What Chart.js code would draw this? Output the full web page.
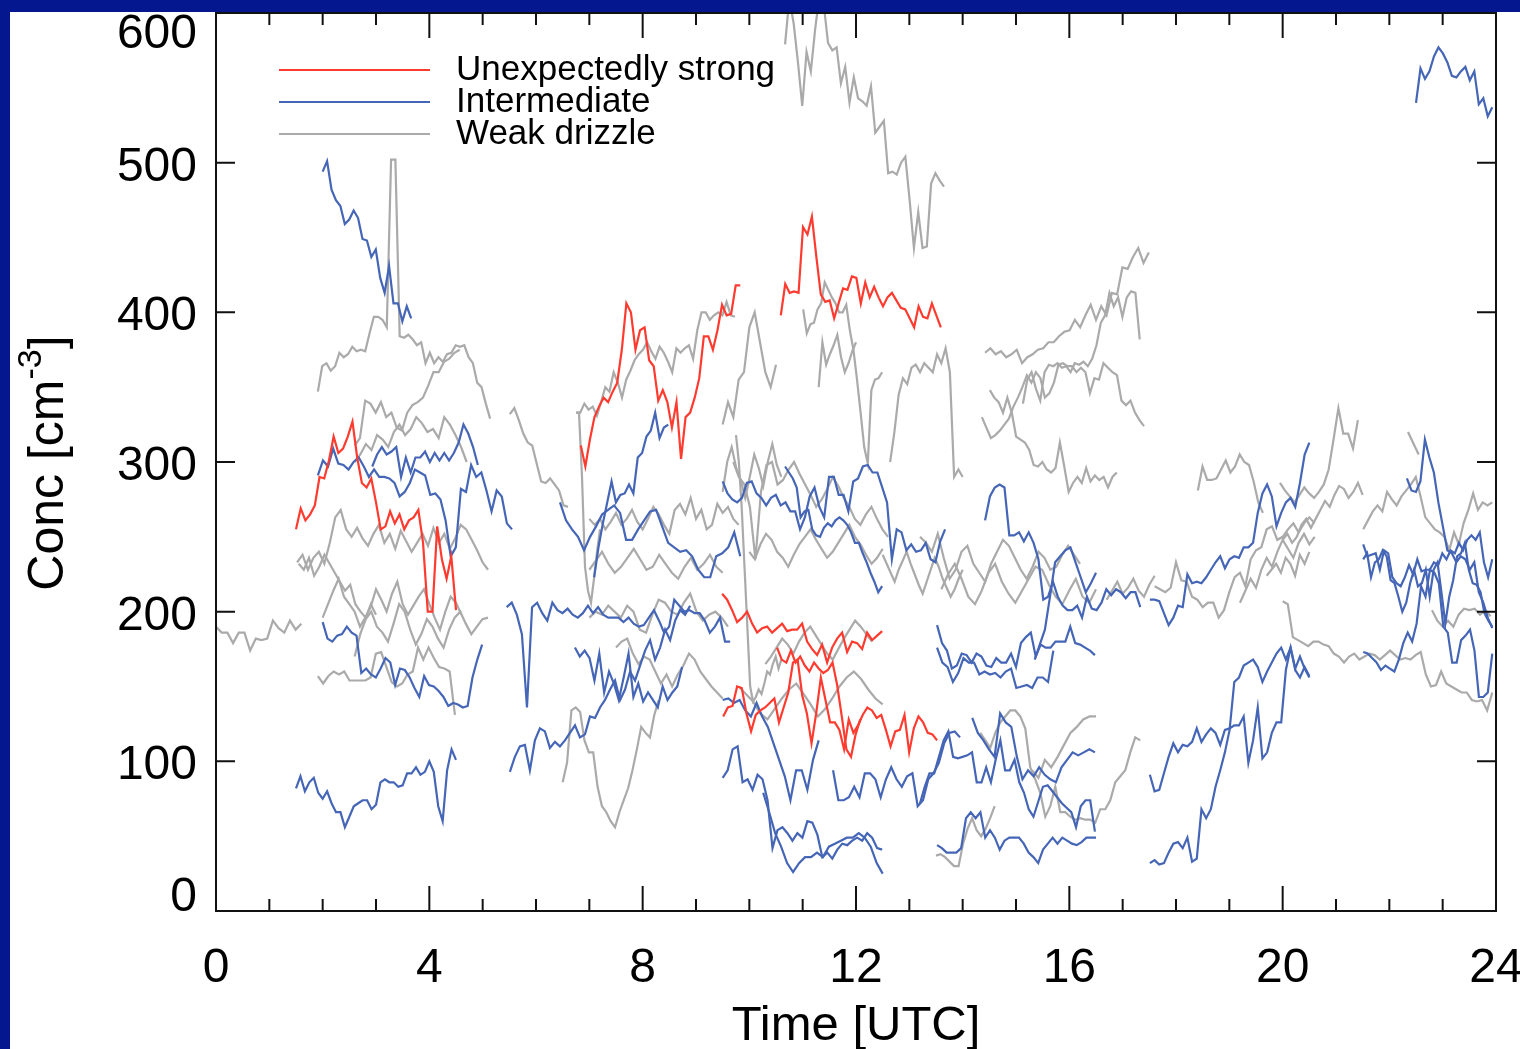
<!DOCTYPE html>
<html>
<head>
<meta charset="utf-8">
<title>Concentración de gotas</title>
<script src="https://cdn.jsdelivr.net/npm/chart.js@4.4.1/dist/chart.umd.min.js"></script>
<style>
  html, body { margin: 0; padding: 0; background: #fff; }
  canvas { display: block; }
</style>
</head>
<body>
<canvas id="grafico" width="1520" height="1049"></canvas>
<script>
// Tramos "Unexpectedly strong" (cm^-3, muestras regulares entre hora inicial y final)
const fuerte1 = [255,269,261,265,271,290,289,301,317,306,309,317,327,303,286,283,289,273,255,257,267,259,265,255,261,263,268,246,200,200,257,235,222,237,201];
const fuerte2 = [311,297,315,330,337,343,340,347,353,375,406,400,375,388,390,368,364,341,348,340,323,340,302,330,333,343,356,384,384,375,388,405,398,399,418,418];
const fuerte3 = [398,419,413,414,413,457,452,464,437,412,407,408,396,406,416,415,424,423,406,420,410,417,410,404,410,413,408,403,402,396,390,404,397,396,406,398,390];
const fuerte4 = [212,208,201,193,196,200,192,186,189,190,186,189,192,187,188,188,192,180,175,171,178,166,176,182,186,173,180,179,175,186,181,184,187];
const fuerte5 = [130,136,137,150,149,132,120,131,134,136,139,142,126,136,146,166,168,144,132,112,132,156,141,126,126,121,108,128,119,124,131,136,134,129,131,121,110,120,121,131,106,122,130,126,119,118,114];
const fuerte6 = [176,168,166,174,166,170,164,160,166,162,159,161,166,151,130,108,103,118,128];

// Tramos "Intermediate"
const intermedio01 = [494,501,482,475,471,459,462,468,463,449,448,437,442,423,413,431,406,406,394,404,396];
const intermedio02 = [540,563,556,561,571,577,573,567,558,557,561,564,555,561,539,543,531,537];
const intermedio03 = [82,90,80,86,89,79,75,80,72,66,66,56,63,70,72,74,74,68,71,86,88,86,86,83,84,92,92,96,91,93,100,93,70,60,94,108,101];
const intermedio04 = [193,182,180,184,185,190,186,184,159,162,158,156,162,169,166,151,162,161,156,149,143,157,151,150,147,143,137,139,138,136,137,156,168,178];
const intermedio05 = [291,301,297,309,299,298,295,300,303,297,290,295,290,290,289,286,277,280,286,295,293,291,278,279,275,261,237,243,282,280,298,290,293,281,267,281,277,259,255];
const intermedio06 = [203,206,198,185,136,203,206,199,194,206,201,199,202,198,196,199,204,199,203,198,196,196,196,193,196,192,190,191,196,201,194,186,190,208,204,200,201,199,199,194,186,190,196,180,180];
const intermedio07 = [297,305,310,305,307,310,290,303,293,303,303,307,300,306,301,306,301,306,313,325,319,310,298];
const intermedio08 = [223,243,259,273,287,273,278,279,285,279,303,306,317,321,333,316,323,325];
const intermedio09 = [273,261,255,250,241,250,257,265,268,271,266,248,248,255,261,267,268,257,246,243,240,241,237,228,223,223,237,239,243,253,237];
const intermedio10 = [287,279,275,273,276,286,287,279,276,271,276,278,271,273,267,267,255,263,277,283,270,263,290,290,278,278,267,287,289,297,298,293,293,283,273,235,255,253,241,245,240,241,246,235,233,247,255];
const intermedio11 = [297,293,289,283,263,267,268,255,251,250,256,259,257,261,263,261,258,253,246,246,239,233,226,220,213,217];
const intermedio12 = [93,103,110,111,94,114,122,120,109,113,110,114,119,124,116,118,130,129,136,141,148,154,141,148,160,154,164,174,181,168,176,188,181,194,201,198,204];
const intermedio13 = [176,170,174,169,154,172,146,160,152,141,156,172,143,152,140,146,141,136,150,141,146,150,163];
const intermedio14 = [89,94,108,110,86,88,81,91,88,74,42,54,56,52,47,52,49,60,59,51,36,39,35,41,45,44,47,49,47,52,49,42,41];
const intermedio15 = [79,66,52,43,32,26,32,36,36,39,36,43,45,47,49,49,52,49,43,32,25];
const intermedio16 = [141,142,139,141,134,130,139,130,123,112,101,90,74,94,94,81,101,114];
const intermedio17 = [94,74,74,76,83,76,92,92,88,76,88,96,88,83,90,92,70,74,88,92,99,112,119,120,116];
const intermedio18 = [191,179,174,162,164,172,171,166,172,170,164,163,169,166,166,172,163,179,183,186,170,178,176,176,180,180,180,190,179,178,176,174,171];
const intermedio19 = [176,166,163,153,159,169,166,166,158,160,158,159,156,160,162,149,150,151,149,156,156,153,174];
const intermedio20 = [261,277,283,285,283,251,251,253,247,253,246,235,208,210,220,210,204,201,201,204,196,210,202,201,206,215,211,215,213,209,213,213,203];
const intermedio21 = [168,178,188,210,233,237,241,243,233,223,213,219,226];
const intermedio22 = [208,208,207,199,191,196,204,203,225,219,220,219,223,228,233,237,229,235,237,236,243,243,246,266,279,285,277,257,266,273,276,270,286,305,313];
const intermedio23 = [91,80,81,92,103,112,106,111,110,113,122,113,118,122,119,111,121,122,124,124,130,99,114,136,102,106,119,126,126,161,176,162,170,162,156];
const intermedio24 = [32,34,31,32,39,45,46,42,49,33,35,68,62,68,83,94,106,121,153,156,164,166,168,163,153,160,166,172,176,168,176,161,156,163,157];
const intermedio25 = [245,237,238,239,228,241,239,223,219,217,223,231,225,235,227,228,228,233,231,239,235,241,239,246,241,248,251,248,253,233,223,235];
const intermedio26 = [235,239,223,233,235,241,237,221,219,210,200,206,219,228,217,219,228,210,228,233,213,192,210,221,237,239,246,228,219,218,213,199,194,190];
const intermedio27 = [289,281,280,287,315,303,293,273,257,241,239,233,237,235,228,233,213,206,196,189];
const intermedio28 = [173,172,169,166,161,164,162,160,168,179,186,180,192,217,210,228,226,219,190,186,166,166,181,184,188,174,143,143,146,172];
const intermedio29 = [44,42,39,39,39,42,62,66,62,66,49,54,49,41,47,49,49,49,45,39,36,32,41,45,49,45,49,47,45,44,46,49,49,49];
const intermedio30 = [72,83,92,92,103,114,120,103,102,103,104,106,86,86,96,86,101,114,94,94,101,86,79,68,63,73,83,84,80,76,72,69,66,56,70,74,74,53];
const intermedio31 = [129,119,114,108,103,132,126,123,103,88,94,90,96,91,88,86,96,101,106,104,106,108,106];

// Tramos "Weak drizzle"
const llovizna01 = [190,186,186,179,186,186,174,182,181,182,194,189,186,194,188,192];
const llovizna02 = [347,364,366,361,364,373,370,372,377,374,375,374,386,397,397,395,390,502,502,384,383,385,382,378,380,366,373,366,370,367,372,373,378,377,378,370,366,353,350,339,329];
const llovizna03 = [311,316,341,339,333,340,330,333,323,321,333,338,340,343,351,360,360,367,369,373,375];
const llovizna04 = [300,305,312,308,318,315,310,320,325,318,322,330,326,320,322,316,330,325,318,310,300];
const llovizna05 = [233,238,228,236,240,232,246,263,268,255,250,256,249,244,252,258,246,252,242,254,247,240,246,252,244,256,246,252,242,249,258,255,248,241,233,228];
const llovizna06 = [196,205,214,222,210,205,200,190,196,203,215,208,200,212,220,205,198,204,210,215,205,196,188,200,210,206,198];
const llovizna07 = [170,185,195,200,190,186,180,192,205,200,188,178,185,195,190,182,176,188,196,200,192,185,190,195,196];
const llovizna08 = [232,228,236,224,230,238,232,226,220,214,218,205,200,196,205,198];
const llovizna09 = [157,152,157,160,158,160,154,154,154,154,156,172,173,163,153,150,152,158,160,176,168,176,169,163,162,160,131];
const llovizna10 = [332,336,328,319,313,311,299,287,286,289,285,281,271,270];
const llovizna11 = [333,333,290,230,214,206,222,240,255];
const llovizna12 = [333,333,339,335,337,331,340,350,347,360,353,343,355,361,368,372,375,380,374,369,377,373,367,360,376,373,376,378,369,388,400,400,395,398,400,398,407,398,397];
const llovizna13 = [86,99,134,136,133,114,106,106,83,70,66,60,56,66,74,82,94,108,123,119,116,131,141];
const llovizna14 = [262,258,262,255,260,266,258,262,268,260,255,262,270,265,258,252,268,272,265,276,262,268,255,258,272,266,270,262,258];
const llovizna15 = [228,234,240,232,226,230,236,242,235,228,230,238,232,226,222,230,236,228,232,238,230,226];
const llovizna16 = [176,180,182,172,165,170,168,160,152,158,150,158,164,172,168,160,155,150,146,142];
const llovizna17 = [318,300,270,230,190,150,140,143,148,145,152,160,158,165,170,162,168];
const llovizna18 = [325,340,330,355,360,390,400,380,360,350,365];
const llovizna19 = [300,290,285,270,235,280,298,300,285,288,295,300,292,285,278,270,275,282,290,284,276,270,262,258,265,270,262,255,250];
const llovizna20 = [240,235,245,252,248,240,236,230,238,245,250,255,248,242,236,240,246,252,258,250,245,238,232,236,242];
const llovizna21 = [165,170,176,182,178,172,180,186,190,184,178,172,168,175,182,188,194,190,185,180];
const llovizna22 = [150,145,140,132,128,135,142,148,152,145,138,130,135,142,150,156,160,155,148,142,138];
const llovizna23 = [238,232,226,220,228,234,240,232,225,218,212,220,228,236,230,222,216,210,215,222,228];
const llovizna24 = [300,320,345,356,352,363,365,360,366,363,360,372,366,376,360,290,295,290];
const llovizna25 = [373,376,372,374,370,372,375,366,370,372,375,376,380,380,384,387,388,395,390,398,405,395,404,398,413,412,430,429,437,443,433,440];
const llovizna26 = [339,355,360,349,341,360,365,364,366,363,364,360,366,365,367,364,369,378,393,398,413,404,410,397,410,414,413,382];
const llovizna27 = [330,323,316,318,321,325,329,337,343,350,358,353,360,356,343,346,353,365,366,364,364,360,363,360,346,356,355,366,363,360,358,341,338,341,333,328,324];
const llovizna28 = [348,343,340,333,343,333,317,315,313,308,298,297,300,295,293,296,313,297,280,286,290,286,296,287,291,288,290,283,290,293];
const llovizna29 = [250,246,240,252,236,222,228,240,244,232,226,220,232,240,248,244,236,228,222,230,240,236,228,230,238,244,238,232];
const llovizna30 = [215,225,232,222,210,205,214,226,232,220,212,206,214,222,230,228,218,210,205,214,222,210,206,215];
const llovizna31 = [119,114,109,119,126,130,134,134,130,122,96,88,79,63,70,83,66,66,63,61,62,61,61,59,68,68,74,86,90,94,106,116,114];
const llovizna32 = [94,89,101,96,103,111,119,123,128,130,130];
const llovizna33 = [37,38,36,33,30,30,45,55,62,54,50,55,62,70];
const llovizna34 = [281,297,288,288,289,295,301,293,297,305,300,298,287,273,266];
const llovizna35 = [217,215,213,216,233,221,220,210,208,203,206,206,196,201,213,223,226,217,235,241,243,255,257,248,250,255,259,253,259,263,259];
const llovizna36 = [206,214,222,216,228,236,230,240,248,242,236,246,252,245,250];
const llovizna37 = [286,281,277,273,278,283,279,276,280,285,295,315,336,319,319,309,328];
const llovizna38 = [248,252,246,250,258,262,256,262,268,274,270,278,284,282,276,280,286,278];
const llovizna39 = [224,228,232,226,236,232,224,238,232,240];
const llovizna40 = [207,205,183,181,179,177,180,180,178,177,172,170,166,170,172,168,170,172,171,168,171,174,171,168,169,168,171,173,158,150,151,160,152,150,148,146,146,141,140,141,134,146];
const llovizna41 = [255,261,267,271,267,280,275,271,277,281,285,290,277,263,259,255,253,250,241,253,245,259,268,279,268,273,271,273];
const llovizna42 = [320,305];
const llovizna43 = [201,194,190,194,190,198,202,201,202,198,201,197];
const llovizna44 = [208,214,220,212,216,222,214,210,218,224];
const llovizna45 = [196,200,198,204,200,196,204,200,188,186,198,208,206,200,198,206,212,200,194,198,200,196,190];
const llovizna46 = [280,300,310,296,288,276,290,305,296,284,300,312,298,290];
const llovizna47 = [579,610,593,567,538,574,561,589,612,606,580,575,577,553,564,540,557,543,541,538,551,520,524,528,493,494,492,500,504,475,443,467,443,444,486,493,488,484];
const llovizna48 = [402,386,392,393,402,406,420,415,410,406,400,400,405,388,375,355,333,310,299,348,355,356,360];
const llovizna49 = [350,380,365,372,378,385,370,360,366,374,380];

// Cada tramo: [valores, hora inicial, hora final] en UTC
const tramosFuertes = [
  [fuerte1, 1.50, 4.50], [fuerte2, 6.84, 9.83], [fuerte3, 10.59, 13.59],
  [fuerte4, 9.49, 12.49], [fuerte5, 9.51, 13.52], [fuerte6, 10.52, 12.08],
];
const tramosIntermedios = [
  [intermedio01, 2.00, 3.66], [intermedio02, 22.50, 23.93], [intermedio03, 1.50, 4.50],
  [intermedio04, 2.00, 4.99], [intermedio05, 1.91, 5.55], [intermedio06, 5.45, 9.64],
  [intermedio07, 2.93, 4.91], [intermedio08, 7.09, 8.48], [intermedio09, 6.45, 9.83],
  [intermedio10, 9.50, 13.67], [intermedio11, 10.67, 12.49], [intermedio12, 5.51, 8.89],
  [intermedio13, 6.73, 8.74], [intermedio14, 9.50, 12.49], [intermedio15, 10.26, 12.50],
  [intermedio16, 9.50, 11.30], [intermedio17, 11.57, 13.95], [intermedio18, 13.52, 16.48],
  [intermedio19, 13.52, 15.70], [intermedio20, 14.42, 17.33], [intermedio21, 15.35, 16.50],
  [intermedio22, 17.51, 20.50], [intermedio23, 17.51, 20.50], [intermedio24, 17.51, 20.50],
  [intermedio25, 21.51, 23.93], [intermedio26, 21.51, 23.93], [intermedio27, 22.33, 23.93],
  [intermedio28, 21.51, 23.93], [intermedio29, 13.52, 16.50], [intermedio30, 13.20, 16.48],
  [intermedio31, 14.18, 16.48],
];
const tramosDebiles = [
  [llovizna01, 0.00, 1.60], [llovizna02, 1.91, 5.14], [llovizna03, 2.60, 4.57],
  [llovizna04, 2.60, 4.70], [llovizna05, 1.52, 5.10], [llovizna06, 2.00, 4.60],
  [llovizna07, 2.60, 5.10], [llovizna08, 1.55, 3.00], [llovizna09, 1.91, 4.48],
  [llovizna10, 5.51, 6.60], [llovizna11, 6.75, 7.20], [llovizna12, 6.75, 9.73],
  [llovizna13, 6.50, 8.30], [llovizna14, 7.00, 9.80], [llovizna15, 7.00, 9.50],
  [llovizna16, 7.50, 9.50], [llovizna17, 9.75, 10.60], [llovizna18, 9.50, 10.50],
  [llovizna19, 9.70, 12.60], [llovizna20, 10.00, 12.50], [llovizna21, 10.30, 12.30],
  [llovizna22, 9.80, 12.50], [llovizna23, 12.50, 14.00], [llovizna24, 12.64, 14.00],
  [llovizna25, 14.42, 17.49], [llovizna26, 15.13, 17.32], [llovizna27, 14.36, 17.40],
  [llovizna28, 14.51, 16.89], [llovizna29, 13.20, 16.20], [llovizna30, 13.60, 16.50],
  [llovizna31, 14.33, 17.33], [llovizna32, 15.30, 16.50], [llovizna33, 13.50, 14.60],
  [llovizna34, 18.41, 19.63], [llovizna35, 17.60, 20.60], [llovizna36, 19.20, 20.60],
  [llovizna37, 19.95, 21.41], [llovizna38, 20.00, 21.50], [llovizna39, 19.70, 20.50],
  [llovizna40, 20.00, 23.93], [llovizna41, 21.51, 23.93], [llovizna42, 22.35, 22.55],
  [llovizna43, 22.80, 23.90], [llovizna44, 16.70, 17.60], [llovizna45, 7.00, 9.60],
  [llovizna46, 9.50, 10.60], [llovizna47, 10.67, 13.65], [llovizna48, 11.01, 12.49],
  [llovizna49, 11.30, 12.00],
];

// Ejes y leyenda
const marcasX = [0, 4, 8, 12, 16, 20, 24];
const marcasY = [0, 100, 200, 300, 400, 500, 600];
const leyenda = ['Unexpectedly strong', 'Intermediate', 'Weak drizzle'];

const FUENTE = '"Liberation Sans", Arial, Helvetica, sans-serif';
const ROJO = '#ff3b30';
const AZUL = '#4565b6';
const GRIS = '#aaaaaa';
const AZUL_MARCO = '#04178f';
const coloresLeyenda = [ROJO, AZUL, GRIS];

// Reparte las muestras de un tramo entre su hora inicial y final
const aPuntos = (valores, desde, hasta) =>
  valores.map((v, i) => ({ x: desde + (hasta - desde) * i / (valores.length - 1), y: v }));

const crearDatasets = (tramos, color, orden, nombre) =>
  tramos.map(([valores, desde, hasta], i) => ({
    label: `${nombre} ${i + 1}`,
    data: aPuntos(valores, desde, hasta),
    borderColor: color,
    borderWidth: 2.2,
    pointRadius: 0,
    tension: 0,
    fill: false,
    order: orden,
  }));

// Marco, ticks hacia dentro, etiquetas, títulos y leyenda
const marco = {
  id: 'marco',
  beforeDraw(chart) {
    const { ctx, width, height } = chart;
    ctx.save();
    ctx.fillStyle = '#ffffff';
    ctx.fillRect(0, 0, width, height);
    ctx.fillStyle = AZUL_MARCO;
    ctx.fillRect(0, 0, width, 12);
    ctx.fillRect(0, 0, 10, height);
    ctx.restore();
  },
  afterDraw(chart) {
    const { ctx, chartArea: a, scales: { x, y } } = chart;
    ctx.save();
    ctx.strokeStyle = '#111';
    ctx.lineWidth = 2;
    ctx.strokeRect(a.left, a.top, a.right - a.left, a.bottom - a.top);

    ctx.beginPath();
    for (let h = 1; h < 24; h++) {
      const px = x.getPixelForValue(h);
      const largo = h % 4 === 0 ? 25 : 12;
      ctx.moveTo(px, a.bottom); ctx.lineTo(px, a.bottom - largo);
      ctx.moveTo(px, a.top); ctx.lineTo(px, a.top + largo);
    }
    marcasY.slice(1, -1).forEach(v => {
      const py = y.getPixelForValue(v);
      ctx.moveTo(a.left, py); ctx.lineTo(a.left + 19, py);
      ctx.moveTo(a.right, py); ctx.lineTo(a.right - 19, py);
    });
    ctx.stroke();

    ctx.fillStyle = '#000';
    ctx.font = `48px ${FUENTE}`;
    ctx.textBaseline = 'alphabetic';
    ctx.textAlign = 'right';
    marcasY.forEach(v => {
      const base = Math.min(Math.max(y.getPixelForValue(v) + 18, a.top + 35), a.bottom);
      ctx.fillText(String(v), a.left - 19, base);
    });
    ctx.textAlign = 'center';
    marcasX.forEach(h => ctx.fillText(String(h), x.getPixelForValue(h), 982));

    ctx.font = `49px ${FUENTE}`;
    ctx.fillText('Time [UTC]', (a.left + a.right) / 2, 1040);

    // Título vertical con exponente
    ctx.save();
    ctx.translate(63, 463);
    ctx.rotate(-Math.PI / 2);
    ctx.textAlign = 'left';
    ctx.font = `50px ${FUENTE}`;
    const w1 = ctx.measureText('Conc [cm').width;
    const w3 = ctx.measureText(']').width;
    ctx.font = `34px ${FUENTE}`;
    const w2 = ctx.measureText('-3').width;
    const x0 = -(w1 + w2 + w3) / 2;
    ctx.font = `50px ${FUENTE}`;
    ctx.fillText('Conc [cm', x0, 0);
    ctx.fillText(']', x0 + w1 + w2, 0);
    ctx.font = `34px ${FUENTE}`;
    ctx.fillText('-3', x0 + w1, -22);
    ctx.restore();

    // Leyenda
    ctx.font = `35px ${FUENTE}`;
    ctx.textAlign = 'left';
    leyenda.forEach((texto, i) => {
      const py = a.top + 57 + i * 32;
      ctx.strokeStyle = coloresLeyenda[i];
      ctx.lineWidth = 2;
      ctx.beginPath();
      ctx.moveTo(a.left + 63, py);
      ctx.lineTo(a.left + 214, py);
      ctx.stroke();
      ctx.fillText(texto, a.left + 240, py + 10);
    });
    ctx.restore();
  }
};

const crearGrafico = () => {
  const data = {
    datasets: [
      ...crearDatasets(tramosFuertes, ROJO, 0, leyenda[0]),
      ...crearDatasets(tramosIntermedios, AZUL, 1, leyenda[1]),
      ...crearDatasets(tramosDebiles, GRIS, 2, leyenda[2]),
    ]
  };
  const config = {
    type: 'line',
    data: data,
    options: {
      responsive: false,
      animation: false,
      events: [],
      layout: { padding: { left: 216, top: 13, right: 24, bottom: 138 } },
      scales: {
        x: { type: 'linear', min: 0, max: 24, display: false },
        y: { type: 'linear', min: 0, max: 600, display: false }
      },
      plugins: {
        legend: { display: false },
        tooltip: { enabled: false }
      }
    },
    plugins: [marco]
  };
  new Chart(document.querySelector('#grafico').getContext('2d'), config);
};

crearGrafico();
</script>
</body>
</html>
